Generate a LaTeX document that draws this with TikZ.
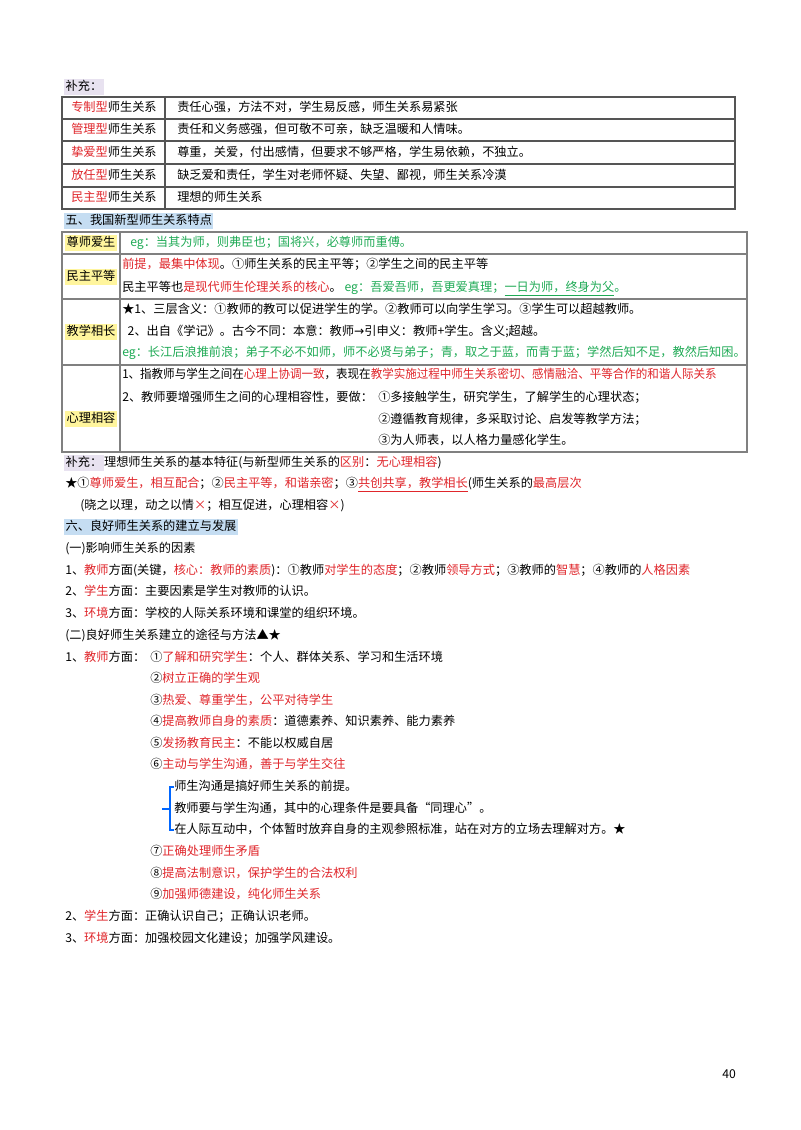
\documentclass[tikz,border=0pt]{standalone}
\usepackage{fontspec}
\setmainfont{Noto Sans CJK SC}
\newfontfamily\djv{DejaVu Sans}
\definecolor{rd}{HTML}{E0262B}
\definecolor{gr}{HTML}{1FAA55}
\definecolor{hy}{HTML}{FFF59D}
\definecolor{hb}{HTML}{C5DDF2}
\definecolor{hp}{HTML}{E8E2F0}
\definecolor{bd}{HTML}{555555}
\newcommand{\R}[1]{\textcolor{rd}{#1}}
\newcommand{\G}[1]{\textcolor{gr}{#1}}
\begin{document}
\begin{tikzpicture}[x=0.75pt,y=-0.75pt,
  t/.style={anchor=west,inner sep=0pt,text height=7.3pt,text depth=1.8pt,font=\fontsize{9.15pt}{11pt}\selectfont},
  hl/.style={t,inner xsep=1pt,inner ysep=1.5pt},
  tb/.style={draw=bd,line width=0.8pt}]
\useasboundingbox[fill=white] (0,0) rectangle (800,1130);
% supplement 1
\node[hl,fill=hp] (s1) at (64,87) {补充：};
\draw[tb] (62,97) rectangle (735,209);
\foreach \y in {119,141,164,187} \draw[tb] (62,\y) -- (735,\y);
\draw[tb] (165,97) -- (165,209);
\node[t] (a1) at (71,108) {\R{专制型}师生关系};
\node[t] (b1) at (177,108) {责任心强，方法不对，学生易反感，师生关系易紧张};
\node[t] (a2) at (71,130) {\R{管理型}师生关系};
\node[t] (b2) at (177,130) {责任和义务感强，但可敬不可亲，缺乏温暖和人情味。};
\node[t] (a3) at (71,153) {\R{挚爱型}师生关系};
\node[t] (b3) at (177,153) {尊重，关爱，付出感情，但要求不够严格，学生易依赖，不独立。};
\node[t] (a4) at (71,176) {\R{放任型}师生关系};
\node[t] (b4) at (177,176) {缺乏爱和责任，学生对老师怀疑、失望、鄙视，师生关系冷漠};
\node[t] (a5) at (71,198) {\R{民主型}师生关系};
\node[t] (b5) at (177,198) {理想的师生关系};
% heading 5
\node[hl,fill=hb] (h5) at (64,221) {五、我国新型师生关系特点};
\draw[tb,draw=gray] (62,232) rectangle (747,452);
\foreach \y in {254,299,365} \draw[tb,draw=gray] (62,\y) -- (747,\y);
\draw[tb,draw=gray] (120,232) -- (120,452);
\node[hl,fill=hy] (c1) at (65,243) {尊师爱生};
\node[t] (d1) at (130,243) {\G{eg：当其为师，则弗臣也；国将兴，必尊师而重傅。}};
\node[hl,fill=hy] (c2) at (65,277) {民主平等};
\node[t] (d2) at (122,265) {\R{前提，最集中体现}。①师生关系的民主平等；②学生之间的民主平等};
\node[t] (d3) at (122,288) {民主平等也\R{是现代师生伦理关系的核心}。 \G{eg：吾爱吾师，吾更爱真理；\underline{一日为师，终身为父}。}};
\node[hl,fill=hy] (c3) at (65,332) {教学相长};
\node[t] (d4) at (122,310) {★1、三层含义：①教师的教可以促进学生的学。②教师可以向学生学习。③学生可以超越教师。};
\node[t] (d5) at (122,332) {\ \ 2、出自《学记》。古今不同：本意：教师{\djv →}引申义：教师+学生。含义;超越。};
\node[t] (d6) at (122,353) {\G{eg：长江后浪推前浪；弟子不必不如师，师不必贤与弟子；青，取之于蓝，而青于蓝；学然后知不足，教然后知困。}};
\node[hl,fill=hy] (c4) at (65,419) {心理相容};
\node[t,xscale=0.945] (e1) at (122,375) {1、指教师与学生之间在\R{心理上协调一致}，表现在\R{教学实施过程中师生关系密切、感情融洽、平等合作的和谐人际关系}};
\node[t] (e2) at (122,398) {2、教师要增强师生之间的心理相容性，要做：};
\node[t] (e3) at (378,398) {①多接触学生，研究学生，了解学生的心理状态；};
\node[t] (e4) at (378,420) {②遵循教育规律，多采取讨论、启发等教学方法；};
\node[t] (e5) at (378,441) {③为人师表，以人格力量感化学生。};
% supplement 2
\node[hl,fill=hp] (s2) at (64,463) {补充：};
\node[t] (s2b) at (s2.east) {理想师生关系的基本特征(与新型师生关系的\R{区别}：\R{无心理相容})};
\node[t] (f1) at (65,484) {★①\R{尊师爱生，相互配合}；②\R{民主平等，和谐亲密}；③\R{\underline{共创共享，教学相长}}(师生关系的\R{最高层次}};
\node[t] (f2) at (80,506) {(晓之以理，动之以情\R{×}；相互促进，心理相容\R{×})};
% heading 6
\node[hl,fill=hb] (h6) at (64,527) {六、良好师生关系的建立与发展};
\node[t] (g0) at (65,549) {(一)影响师生关系的因素};
\node[t] (g1) at (65,571) {1、\R{教师}方面(关键，\R{核心：教师的素质})：①教师\R{对学生的态度}；②教师\R{领导方式}；③教师的\R{智慧}；④教师的\R{人格因素}};
\node[t] (g2) at (65,592) {2、\R{学生}方面：主要因素是学生对教师的认识。};
\node[t] (g3) at (65,614) {3、\R{环境}方面：学校的人际关系环境和课堂的组织环境。};
\node[t] (k0) at (65,636) {(二)良好师生关系建立的途径与方法▲★};
\node[t] (k1) at (65,658) {1、\R{教师}方面：};
\node[t] (m1) at (150,658) {①\R{了解和研究学生}：个人、群体关系、学习和生活环境};
\node[t] (m2) at (150,679) {②\R{树立正确的学生观}};
\node[t] (m3) at (150,701) {③\R{热爱、尊重学生，公平对待学生}};
\node[t] (m4) at (150,722) {④\R{提高教师自身的素质}：道德素养、知识素养、能力素养};
\node[t] (m5) at (150,744) {⑤\R{发扬教育民主}：不能以权威自居};
\node[t] (m6) at (150,765) {⑥\R{主动与学生沟通，善于与学生交往}};
\node[t] (n1) at (174,787) {师生沟通是搞好师生关系的前提。};
\node[t] (n2) at (174,809) {教师要与学生沟通，其中的心理条件是要具备“同理心”。};
\node[t] (n3) at (174,830) {在人际互动中，个体暂时放弃自身的主观参照标准，站在对方的立场去理解对方。★};
\draw[draw=blue!60!cyan,line width=0.8pt] (n1.west) -- ++(-4,0) |- (n3.west);
\coordinate (bm) at (170,809);
\draw[draw=blue!60!cyan,line width=0.8pt] (bm) -- ++(-8,0);
\node[t] (m7) at (150,852) {⑦\R{正确处理师生矛盾}};
\node[t] (m8) at (150,874) {⑧\R{提高法制意识，保护学生的合法权利}};
\node[t] (m9) at (150,895) {⑨\R{加强师德建设，纯化师生关系}};
\node[t] (k2) at (65,917) {2、\R{学生}方面：正确认识自己；正确认识老师。};
\node[t] (k3) at (65,939) {3、\R{环境}方面：加强校园文化建设；加强学风建设。};
\node[t] (pg) at (722,1075) {40};
\end{tikzpicture}
\end{document}
